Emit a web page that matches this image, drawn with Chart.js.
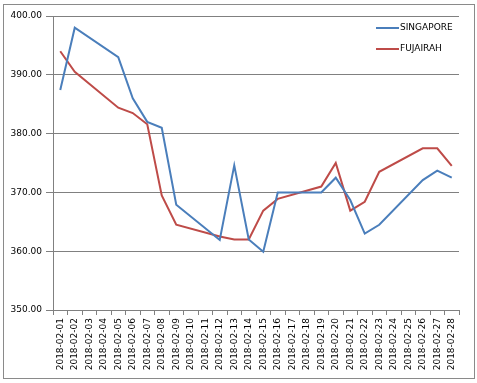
<!DOCTYPE html>
<html>
<head>
<meta charset="utf-8">
<script src="https://cdn.jsdelivr.net/npm/chart.js@4"></script>
<style>
  body { margin: 0; background: #fff; }
  #wrap { position: relative; width: 477px; height: 383px; }
  #frame { position: absolute; left: 3px; top: 4px; width: 472px; height: 375px;
           box-sizing: border-box; border: 1px solid #8a8a8a; pointer-events: none; }
</style>
</head>
<body>
<div id="wrap">
  <canvas id="priceChart" width="477" height="383"></canvas>
  <div id="frame"></div>
</div>
<script>
// Dates on the x axis (every day of February 2018)
const dates = [
  '2018-02-01', '2018-02-02', '2018-02-03', '2018-02-04', '2018-02-05', '2018-02-06', '2018-02-07',
  '2018-02-08', '2018-02-09', '2018-02-10', '2018-02-11', '2018-02-12', '2018-02-13', '2018-02-14',
  '2018-02-15', '2018-02-16', '2018-02-17', '2018-02-18', '2018-02-19', '2018-02-20', '2018-02-21',
  '2018-02-22', '2018-02-23', '2018-02-24', '2018-02-25', '2018-02-26', '2018-02-27', '2018-02-28'
];

// Prices (null = no quote that day, line spans the gap)
const singapore = [
  387.4, 398.0, null, null, 393.0, 386.0, 382.0,
  381.0, 367.9, null, null, 361.9, 374.6, 362.0,
  359.9, 370.0, null, null, 370.0, 372.5, 368.7,
  363.0, 364.5, null, null, 372.1, 373.7, 372.5
];
const fujairah = [
  394.0, 390.5, null, null, 384.4, 383.5, 381.6,
  369.5, 364.5, null, null, 362.5, 362.0, 362.0,
  366.9, 368.9, null, null, 371.0, 375.0, 366.9,
  368.4, 373.5, null, null, 377.5, 377.5, 374.5
];

const seriesNames = ['SINGAPORE', 'FUJAIRAH'];
const seriesColors = ['#4a7ebb', '#be4b48'];

// y axis range
const yMin = 350;
const yMax = 400;
const yStep = 10;

const gridColor = '#808080';
const fontFamily = 'DejaVu Sans, Verdana, sans-serif';

// Legend drawn inside the plot, top right (like the Excel original)
const insideLegend = {
  id: 'insideLegend',
  afterDraw(chart) {
    const ctx = chart.ctx;
    ctx.save();
    ctx.font = '9px ' + fontFamily;
    ctx.textBaseline = 'middle';
    chart.data.datasets.forEach((ds, i) => {
      const y = 28 + i * 21;
      ctx.strokeStyle = ds.borderColor;
      ctx.lineWidth = 2;
      ctx.beginPath();
      ctx.moveTo(376, y);
      ctx.lineTo(399, y);
      ctx.stroke();
      ctx.fillStyle = '#000';
      ctx.fillText(ds.label, 400, y);
    });
    ctx.restore();
  }
};

const ctx = document.getElementById('priceChart').getContext('2d');
const priceChart = new Chart(ctx, {
  type: 'line',
  data: {
    labels: dates,
    datasets: [
      { label: seriesNames[0], data: singapore, borderColor: seriesColors[0] },
      { label: seriesNames[1], data: fujairah, borderColor: seriesColors[1] }
    ].map(ds => Object.assign(ds, {
      borderWidth: 2,
      pointRadius: 0,
      tension: 0,
      spanGaps: true,
      fill: false
    }))
  },
  options: {
    responsive: false,
    animation: false,
    layout: { padding: { left: 0, right: 18, top: 16, bottom: 0 } },
    plugins: {
      legend: { display: false },
      tooltip: { enabled: false }
    },
    scales: {
      x: {
        offset: true,
        afterFit: (scale) => { scale.height = 73; },
        grid: {
          offset: true,
          drawOnChartArea: false,
          tickLength: 5,
          color: gridColor
        },
        border: { color: gridColor },
        ticks: {
          autoSkip: false,
          minRotation: 90,
          maxRotation: 90,
          padding: 3,
          color: '#000',
          font: { family: fontFamily, size: 9 }
        }
      },
      y: {
        min: yMin,
        max: yMax,
        afterFit: (scale) => { scale.width = 53; },
        grid: {
          color: gridColor,
          tickLength: 7
        },
        border: { color: gridColor },
        ticks: {
          stepSize: yStep,
          padding: 4,
          color: '#000',
          font: { family: fontFamily, size: 9 },
          callback: (v) => v.toFixed(2)
        }
      }
    }
  },
  plugins: [insideLegend]
});
</script>
</body>
</html>
